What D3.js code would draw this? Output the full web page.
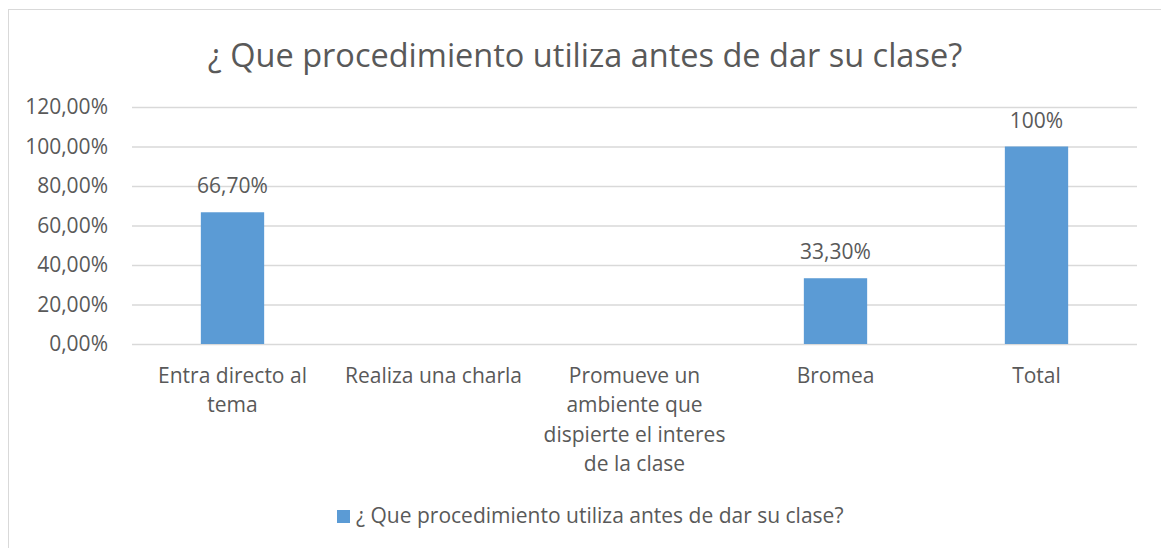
<html>
<head>
  <meta charset="utf-8">
  <title>Procedimiento antes de la clase</title>
  <script src="https://d3js.org/d3.v7.min.js"></script>
  <style>
    body { margin:0; background:#fff; font-family:'Open Sans', sans-serif; }
  </style>
</head>
<body>
<div id="chart"></div>
<script>
// data
var categories = ["Entra directo al tema", "Realiza una charla", "Promueve un ambiente que dispierte el interes de la clase", "Bromea", "Total"];
var categoryLines = [["Entra directo al", "tema"], ["Realiza una charla"], ["Promueve un", "ambiente que", "dispierte el interes", "de la clase"], ["Bromea"], ["Total"]];
var values = [0.667, null, null, 0.333, 1.0];
var valueLabels = ["66,70%", "", "", "33,30%", "100%"];
var yTicks = [0, 0.2, 0.4, 0.6, 0.8, 1.0, 1.2];
var seriesName = "¿ Que procedimiento utiliza antes de dar su clase?";
var title = "¿ Que procedimiento utiliza antes de dar su clase?";

var W = 1161, H = 548;
var margin = {left:132, right:24, top:107, bottom:204};
var textColor = "#595959", barColor = "#5B9BD5", gridColor = "#D9D9D9";
var fs = 21;

var svg = d3.select("#chart").append("svg").attr("width", W).attr("height", H);

// chart border
svg.append("rect").attr("x", 8.5).attr("y", 9.5).attr("width", 1170).attr("height", 560)
  .attr("fill", "#fff").attr("stroke", "#D9D9D9").attr("stroke-width", 1);

var x = d3.scaleBand().domain(categories).range([margin.left, W - margin.right]).paddingInner(0.685).paddingOuter(0.3425);
var y = d3.scaleLinear().domain([0, 1.2]).range([H - margin.bottom, margin.top]);

// title
svg.append("text").attr("x", 585).attr("y", 67).attr("text-anchor", "middle")
  .attr("font-size", 32.5).attr("fill", textColor).text(title);

// y axis with gridlines
var yAxis = svg.append("g").attr("transform", "translate(" + margin.left + ",0)")
  .call(d3.axisLeft(y).tickValues(yTicks).tickSize(-(W - margin.left - margin.right)).tickPadding(24)
    .tickFormat(function(d){ return d3.format(".2f")(d * 100).replace(".", ",") + "%"; }));
yAxis.select(".domain").remove();
yAxis.selectAll(".tick line").attr("stroke", gridColor).attr("stroke-width", 1.5);
yAxis.selectAll(".tick text").attr("fill", textColor).attr("font-size", fs).attr("font-family", "'Open Sans', sans-serif");

// bars
svg.append("g").selectAll("rect").data(categories).enter()
  .filter(function(d, i){ return values[i] !== null; })
  .append("rect")
  .attr("x", function(d){ return x(d); })
  .attr("width", x.bandwidth())
  .attr("y", function(d){ return y(values[categories.indexOf(d)]); })
  .attr("height", function(d){ return y(0) - y(values[categories.indexOf(d)]); })
  .attr("fill", barColor);

// value labels
svg.append("g").selectAll("text").data(categories).enter()
  .append("text")
  .attr("x", function(d){ return x(d) + x.bandwidth() / 2; })
  .attr("y", function(d, i){ return values[i] === null ? 0 : y(values[i]) - 19; })
  .attr("text-anchor", "middle").attr("font-size", fs).attr("fill", textColor)
  .text(function(d, i){ return valueLabels[i]; });

// category labels
var xl = svg.append("g").selectAll("text").data(categories).enter()
  .append("text")
  .attr("x", function(d){ return x(d) + x.bandwidth() / 2; })
  .attr("y", y(0) + 39)
  .attr("text-anchor", "middle").attr("font-size", fs).attr("fill", textColor);
xl.each(function(d, i){
  var t = d3.select(this);
  categoryLines[i].forEach(function(line, j){
    t.append("tspan").attr("x", x(d) + x.bandwidth() / 2).attr("dy", j === 0 ? 0 : 29.3).text(line);
  });
});

// legend
var lg = svg.append("g").attr("transform", "translate(337,510)");
lg.append("rect").attr("width", 13).attr("height", 13).attr("fill", barColor);
lg.append("text").attr("x", 19).attr("y", 13).attr("font-size", fs).attr("fill", textColor).text(seriesName);
</script>
</body>
</html>
